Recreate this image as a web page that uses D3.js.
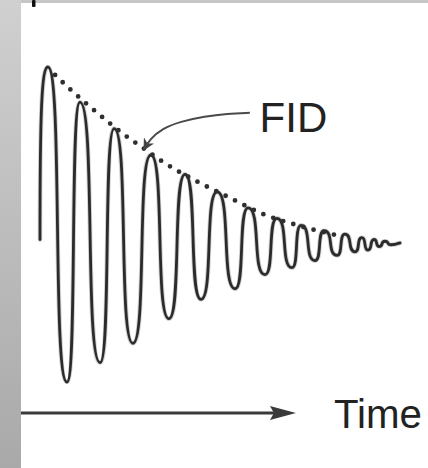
<!DOCTYPE html>
<html>
<head>
<meta charset="utf-8">
<script src="https://cdn.jsdelivr.net/npm/d3@7"></script>
<style>
  html, body { margin: 0; padding: 0; background: #fff; }
  svg { display: block; }
</style>
</head>
<body>
<svg id="chart" width="428" height="468"></svg>
<script>
// FID signal: start point, then alternating peaks/troughs
// (time in arbitrary units 0..100, amplitude relative to first peak)
const signalTime = [0, 2.2, 7.5, 11.1, 16.7, 20.6, 25.8, 30.8, 35.8, 40.3, 44.7, 49.2, 54.2, 57.8, 62.5, 65.8, 70.0, 72.5, 76.4, 78.9, 82.5, 84.7, 87.5, 89.4, 91.1, 92.8, 94.2, 95.8, 97.5, 100];
const signalAmp  = [0.02, 1.00, -0.79, 0.80, -0.68, 0.65, -0.57, 0.50, -0.43, 0.39, -0.32, 0.29, -0.26, 0.20, -0.18, 0.14, -0.14, 0.10, -0.10, 0.07, -0.07, 0.05, -0.05, 0.03, -0.04, 0.02, -0.02, 0.01, -0.01, 0];

// Decay envelope (dotted)
const envTime = [4.2, 7.5, 15.3, 23.1, 28.6, 34.2, 43.6, 52.8, 61.9, 72.2, 83.3];
const envAmp  = [0.955, 0.89, 0.75, 0.62, 0.54, 0.46, 0.35, 0.256, 0.165, 0.097, 0.04];

// Annotation arrow pointing at the envelope
const arrowTime = [58.3, 52.0, 45.8, 38.9, 34.0, 30.5, 28.9];
const arrowAmp  = [0.74, 0.735, 0.72, 0.69, 0.65, 0.59, 0.53];

const labels = { fid: "FID", axis: "Time" };

const svg = d3.select("#chart");
const W = 428, H = 468;

// Custom curve: rounded U-shaped extremes joined by steep, almost vertical flanks
function curveFlank(context) {
  let pts = [];
  return {
    areaStart() {}, areaEnd() {},
    lineStart() { pts = []; },
    point(x, y) { pts.push([+x, +y]); },
    lineEnd() {
      if (!pts.length) return;
      context.moveTo(pts[0][0], pts[0][1]);
      const c = 0.78;
      for (let i = 1; i < pts.length; i++) {
        const [x0, y0] = pts[i - 1], [x1, y1] = pts[i];
        const dx = x1 - x0;
        if (i === 1) {
          context.bezierCurveTo(x0, y0 + (y1 - y0) * 0.75, x1 - c * dx, y1, x1, y1);
        } else if (i === pts.length - 1) {
          context.bezierCurveTo(x0 + c * dx, y0, x1 - 0.3 * dx, y1, x1, y1);
        } else {
          context.bezierCurveTo(x0 + c * dx, y0, x1 - c * dx, y1, x1, y1);
        }
      }
    }
  };
}

// Background frame (grey bands)
const defs = svg.append("defs");
const grad = defs.append("linearGradient").attr("id", "band")
  .attr("x1", 0).attr("y1", 0).attr("x2", 0).attr("y2", 1);
grad.append("stop").attr("offset", "0%").attr("stop-color", "#d0d0d0");
grad.append("stop").attr("offset", "100%").attr("stop-color", "#a9a9a9");

svg.append("rect").attr("x", 0).attr("y", 0).attr("width", W).attr("height", H).attr("fill", "#fff");
svg.append("rect").attr("x", 0).attr("y", 0).attr("width", W).attr("height", 3).attr("fill", "#c6c6c6");
svg.append("rect").attr("x", 0).attr("y", 0).attr("width", 21).attr("height", H).attr("fill", "url(#band)");
svg.append("rect").attr("x", 32).attr("y", 0).attr("width", 3.5).attr("height", 7).attr("rx", 1).attr("fill", "#111");

// Scales
const x = d3.scaleLinear().domain([0, 100]).range([40, 400]);
const y = d3.scaleLinear().domain([-1, 1]).range([419, 67]);

// Signal (soft halo + dark core, like the scanned trace)
const sig = signalTime.map((t, i) => [t, signalAmp[i]]);
const line = d3.line().x(d => x(d[0])).y(d => y(d[1])).curve(curveFlank);
svg.append("path").datum(sig)
  .attr("d", line).attr("fill", "none")
  .attr("stroke", "#9a9a9a").attr("stroke-opacity", 0.45)
  .attr("stroke-width", 4.6).attr("stroke-linejoin", "round").attr("stroke-linecap", "round");
svg.append("path").datum(sig)
  .attr("d", line).attr("fill", "none")
  .attr("stroke", "#2b2b2b")
  .attr("stroke-width", 2.8)
  .attr("stroke-linejoin", "round")
  .attr("stroke-linecap", "round");

// Envelope (dotted)
const env = envTime.map((t, i) => [t, envAmp[i]]);
svg.append("path").datum(env)
  .attr("d", d3.line().x(d => x(d[0])).y(d => y(d[1])).curve(d3.curveMonotoneX))
  .attr("fill", "none")
  .attr("stroke", "#2f2f2f")
  .attr("stroke-width", 4.8)
  .attr("stroke-linecap", "round")
  .attr("stroke-dasharray", "0 10.5");

// Annotation arrow
defs.append("marker").attr("id", "head")
  .attr("viewBox", "0 0 10 10").attr("refX", 9).attr("refY", 5)
  .attr("markerWidth", 6).attr("markerHeight", 6).attr("orient", "auto")
  .attr("markerUnits", "strokeWidth")
  .append("path").attr("d", "M0,0 L10,5 L0,10 L3,5 Z").attr("fill", "#444");
const arr = arrowTime.map((t, i) => [t, arrowAmp[i]]);
svg.append("path").datum(arr)
  .attr("d", d3.line().x(d => x(d[0])).y(d => y(d[1])).curve(d3.curveBasis))
  .attr("fill", "none")
  .attr("stroke", "#4a4a4a")
  .attr("stroke-width", 2)
  .attr("marker-end", "url(#head)");

svg.append("text")
  .attr("x", x(61)).attr("y", y(0.632))
  .attr("font-family", "Liberation Sans, Arial, sans-serif")
  .attr("font-size", 42).attr("fill", "#222")
  .text(labels.fid);

// Time axis (arrow, no ticks)
const axisY = 413;
const axisStart = 21, axisEnd = x(71.1);
svg.append("line")
  .attr("x1", axisStart).attr("x2", axisEnd - 18)
  .attr("y1", axisY).attr("y2", axisY)
  .attr("stroke", "#3a3a3a").attr("stroke-width", 3.2);
svg.append("path")
  .attr("d", `M${axisEnd},${axisY} L${axisEnd - 26},${axisY - 7} L${axisEnd - 22},${axisY} L${axisEnd - 26},${axisY + 7} Z`)
  .attr("fill", "#3a3a3a");

svg.append("text")
  .attr("x", 334).attr("y", 428)
  .attr("font-family", "Liberation Sans, Arial, sans-serif")
  .attr("font-size", 41).attr("fill", "#222")
  .attr("textLength", 88).attr("lengthAdjust", "spacingAndGlyphs")
  .text(labels.axis);
</script>
</body>
</html>
